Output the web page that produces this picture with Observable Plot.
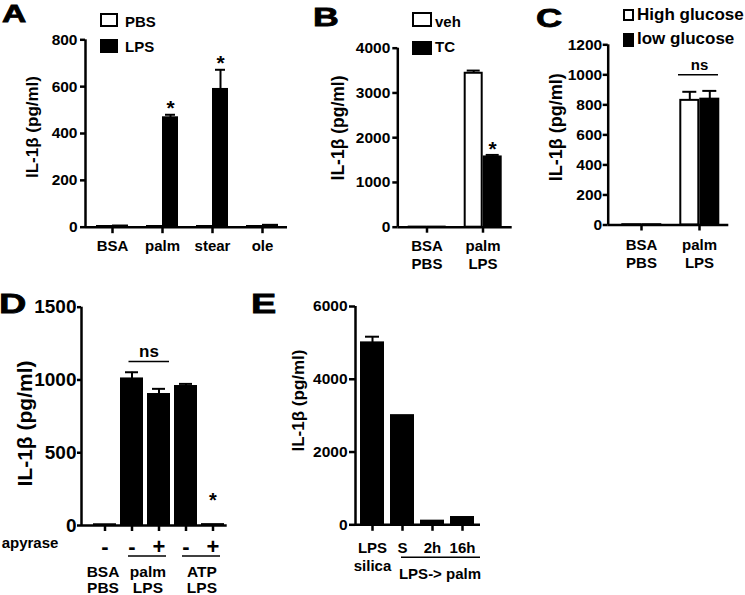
<!DOCTYPE html>
<html>
<head>
<meta charset="utf-8">
<script src="https://cdn.jsdelivr.net/npm/d3@7"></script>
<script src="https://cdn.jsdelivr.net/npm/@observablehq/plot@0.6"></script>
<style>
html,body{margin:0;padding:0;background:#fff;}
#fig{position:relative;width:745px;height:595px;overflow:hidden;background:#fff;font-family:"Liberation Sans",Arial,Helvetica,sans-serif;font-weight:bold;color:#000;}
#fig svg{position:absolute;left:0;top:0;background:transparent !important;overflow:visible;}
.t{position:absolute;white-space:nowrap;line-height:1;}
.sw{position:absolute;box-sizing:border-box;border:2px solid #000;background:#fff;}
.sw.k{background:#000;}
.letter{position:absolute;line-height:1;transform-origin:0 0;-webkit-text-stroke:0.8px #000;}
</style>
</head>
<body>
<div id="fig"></div>
<script>
// ================= DATA =================
const yLabel = "IL-1β (pg/ml)";

// Panel A
const seriesA = ["PBS", "LPS"];
const catsA = ["BSA", "palm", "stear", "ole"];
const pbsA = [3, 3, 3, 3];
const pbsErrA = [0, 0, 0, 0];
const lpsA = [5, 467, 588, 8];
const lpsErrA = [0, 13, 84, 0];
const sigA = ["palm", "stear"];
const ticksA = [0, 200, 400, 600, 800];

// Panel B
const seriesB = ["veh", "TC"];
const catsB = ["BSA\nPBS", "palm\nLPS"];
const vehB = [2, 3440];
const vehErrB = [0, 60];
const tcB = [2, 1570];
const tcErrB = [0, 45];
const sigB = ["palm\nLPS"];
const ticksB = [0, 1000, 2000, 3000, 4000];

// Panel C
const seriesC = ["High glucose", "low glucose"];
const catsC = ["BSA\nPBS", "palm\nLPS"];
const highC = [2, 830];
const highErrC = [0, 57];
const lowC = [2, 838];
const lowErrC = [0, 55];
const nsCatC = "palm\nLPS";
const nsLevelC = 1000;
const ticksC = [0, 200, 400, 600, 800, 1000, 1200];

// Panel D
const groupsD = ["BSA\nPBS", "palm\nLPS", "palm\nLPS", "ATP\nLPS", "ATP\nLPS"];
const apyraseD = ["-", "-", "+", "-", "+"];
const valuesD = [5, 1007, 900, 955, 6];
const errD = [0, 46, 39, 18, 0];
const sigD = [4];
const nsPairD = [1, 2];
const nsLevelD = 1127;
const ticksD = [0, 500, 1000, 1500];

// Panel E
const catsE = ["LPS\nsilica", "S", "2h", "16h"];
const valuesE = [5000, 3000, 100, 200];
const errE = [170, 0, 0, 0];
const groupE = "LPS-> palm";
const groupMembersE = ["S", "2h", "16h"];
const ticksE = [0, 2000, 4000, 6000];

// ================= LAYOUT =================
const W = 745, H = 595;
const FONT = '"Liberation Sans", Arial, Helvetica, sans-serif';
const fig = document.getElementById("fig");

function base(f) {
  return {
    width: W, height: H,
    marginLeft: f.l, marginRight: W - f.r, marginTop: f.t, marginBottom: H - f.b,
    style: {background: "transparent", fontFamily: FONT, fontWeight: "bold", color: "black", overflow: "visible"}
  };
}

function yAxisPlot(f, ydom, ticks, o) {
  return Plot.plot({
    ...base(f),
    x: {domain: [0, 1], axis: null},
    y: {domain: ydom},
    marks: [
      Plot.axisY(ticks, {tickSize: o.ts, tickPadding: o.tp, strokeWidth: 2.5, fontSize: o.fs, tickFormat: d => String(d), label: null}),
      Plot.ruleX([0], {strokeWidth: 2.5}),
      Plot.ruleY([0], {strokeWidth: 2.5}),
      Plot.text([yLabel], {text: d => d, frameAnchor: "left", textAnchor: "middle", lineAnchor: "middle", rotate: -90, dx: o.lx - f.l, dy: o.ly - (f.t + f.b) / 2, fontSize: o.lfs})
    ]
  });
}

function groupedPlot(f, cats, series, rows, ydom, fxo, extra) {
  return Plot.plot({
    ...base(f),
    fx: {domain: cats, paddingInner: fxo.pi, paddingOuter: fxo.po, align: fxo.al, label: null},
    x: {domain: series, paddingInner: 0.1, paddingOuter: 0, axis: null},
    y: {domain: ydom, axis: null},
    color: {domain: series, range: ["white", "black"]},
    marks: [
      Plot.barY(rows, {fx: "c", x: "s", y: "v", fill: "s", stroke: "black", strokeWidth: 2}),
      Plot.ruleX(rows.filter(d => d.e > 0), {fx: "c", x: "s", y1: "v", y2: d => d.v + d.e, strokeWidth: 2}),
      Plot.tickY(rows.filter(d => d.e > 0), {fx: "c", x: "s", y: d => d.v + d.e, strokeWidth: 2, insetLeft: 2, insetRight: 2}),
      ...extra,
      Plot.axisFx({anchor: "bottom", tickSize: fxo.ts, tickPadding: fxo.tp, strokeWidth: 2.5, fontSize: 15, lineHeight: 1.2, label: null})
    ]
  });
}

function txt(s, x, baseline, size) {
  const d = document.createElement("div");
  d.className = "t";
  d.textContent = s;
  d.style.fontSize = size + "px";
  d.style.left = x + "px";
  d.style.top = (baseline - 0.8465 * size) + "px";
  fig.appendChild(d);
}
function sw(x, y, w, h, dark) {
  const d = document.createElement("div");
  d.className = "sw" + (dark ? " k" : "");
  Object.assign(d.style, {left: x + "px", top: y + "px", width: w + "px", height: h + "px"});
  fig.appendChild(d);
}
function letter(s, x, capTop, size) {
  const d = document.createElement("div");
  d.className = "letter";
  d.textContent = s;
  d.style.fontSize = size + "px";
  d.style.left = x + "px";
  d.style.top = (capTop - (0.8465 - 0.716) * size) + "px";
  d.style.transform = "scaleX(1.4)";
  fig.appendChild(d);
}

// ---------- Panel A ----------
const fA = {l: 85, r: 287, t: 39.3, b: 226.7};
const rowsA = catsA.flatMap((c, i) => [
  {c, s: seriesA[0], v: pbsA[i], e: pbsErrA[i]},
  {c, s: seriesA[1], v: lpsA[i], e: lpsErrA[i]}
]);
fig.appendChild(groupedPlot(fA, catsA, seriesA, rowsA, [0, 800],
  {pi: 0.364, po: 0.19, al: 0.53, ts: 6.5, tp: 5},
  [Plot.text(rowsA.filter(d => sigA.includes(d.c) && d.s === seriesA[1]),
    {fx: "c", x: "s", y: d => d.v + d.e, text: () => "*", fontSize: 21, lineAnchor: "bottom", dy: 0})]));
fig.appendChild(yAxisPlot(fA, [0, 800], ticksA, {ts: 5, tp: 3, fs: 15.5, lx: 32.5, ly: 126.5, lfs: 17}));

// ---------- Panel B ----------
const fB = {l: 397.3, r: 511.7, t: 47.7, b: 226.7};
const rowsB = catsB.flatMap((c, i) => [
  {c, s: seriesB[0], v: vehB[i], e: vehErrB[i]},
  {c, s: seriesB[1], v: tcB[i], e: tcErrB[i]}
]);
fig.appendChild(groupedPlot(fB, catsB, seriesB, rowsB, [0, 4000],
  {pi: 0.34, po: 0.19, al: 0.51, ts: 6, tp: 5.3},
  [Plot.text(rowsB.filter(d => sigB.includes(d.c) && d.s === seriesB[1]),
    {fx: "c", x: "s", y: d => d.v + d.e, text: () => "*", fontSize: 21, lineAnchor: "bottom", dy: 1})]));
fig.appendChild(yAxisPlot(fB, [0, 4000], ticksB, {ts: 5, tp: 2.5, fs: 15.5, lx: 337.5, ly: 127.5, lfs: 17.5}));

// ---------- Panel C ----------
const fC = {l: 607.7, r: 728.3, t: 44.3, b: 224.5};
const rowsC = catsC.flatMap((c, i) => [
  {c, s: seriesC[0], v: highC[i], e: highErrC[i]},
  {c, s: seriesC[1], v: lowC[i], e: lowErrC[i]}
]);
fig.appendChild(groupedPlot(fC, catsC, seriesC, rowsC, [0, 1200],
  {pi: 0.34, po: 0.2, al: 0.6, ts: 6, tp: 6.2},
  [
    Plot.ruleY([{c: nsCatC, y: nsLevelC}], {fx: "c", y: "y", strokeWidth: 1.5, insetLeft: -2}),
    Plot.text([{c: nsCatC, y: nsLevelC}], {fx: "c", y: "y", text: () => "ns", fontSize: 15, lineAnchor: "bottom", dy: -4.5})
  ]));
fig.appendChild(yAxisPlot(fC, [0, 1200], ticksC, {ts: 5, tp: 1, fs: 15.5, lx: 555.7, ly: 126.7, lfs: 18}));

// ---------- Panel D ----------
const fD = {l: 81, r: 226.7, t: 306.7, b: 525};
const idxD = d3.range(valuesD.length);
const piD = 0.22, poD = 0.221;
const stepD = (fD.r - fD.l) / (idxD.length - piD + 2 * poD);
const rowsD = idxD.map(i => ({i, g: groupsD[i], a: apyraseD[i], v: valuesD[i], e: errD[i]}));
const grpD = [...new Set(groupsD)].map(g => ({g, first: groupsD.indexOf(g), last: groupsD.lastIndexOf(g)}));
fig.appendChild(Plot.plot({
  ...base(fD),
  x: {domain: idxD, paddingInner: piD, paddingOuter: poD, align: 0.76},
  y: {domain: [0, 1500], axis: null},
  marks: [
    Plot.barY(rowsD, {x: "i", y: "v", fill: "black", stroke: "black", strokeWidth: 2}),
    Plot.ruleX(rowsD.filter(d => d.e > 0), {x: "i", y1: "v", y2: d => d.v + d.e, strokeWidth: 2}),
    Plot.tickY(rowsD.filter(d => d.e > 0), {x: "i", y: d => d.v + d.e, strokeWidth: 2, insetLeft: 4, insetRight: 4}),
    Plot.ruleY([{a: nsPairD[0], b: nsPairD[1], y: nsLevelD}], {x1: "a", x2: "b", y: "y", strokeWidth: 1.5, insetLeft: 7.5, insetRight: 0}),
    Plot.text([{a: nsPairD[0], y: nsLevelD}], {x: "a", y: "y", text: () => "ns", fontSize: 17, lineAnchor: "bottom", dy: -4.3, dx: stepD / 2 + 3}),
    Plot.text(rowsD.filter(d => sigD.includes(d.i)), {x: "i", y: "v", text: () => "*", fontSize: 20, lineAnchor: "bottom", dy: -18}),
    Plot.axisX({anchor: "bottom", tickSize: 6, tickPadding: 6.6, strokeWidth: 2.5, fontSize: 22, tickFormat: i => apyraseD[i], label: null}),
    Plot.ruleY(grpD.filter(g => g.last > g.first), {x1: "first", x2: "last", y: () => 0, dy: 30.5, strokeWidth: 1.5, insetLeft: 7, insetRight: 3}),
    Plot.text(grpD.filter(g => g.last === g.first), {x: "first", y: () => 0, text: "g", dy: 40, dx: -2, lineAnchor: "top", fontSize: 15.5, lineHeight: 1.03}),
    Plot.text(grpD.filter(g => g.last > g.first), {x: "first", y: () => 0, text: "g", dy: 40, dx: stepD / 2 + 2, lineAnchor: "top", fontSize: 15.5, lineHeight: 1.03})
  ]
}));
fig.appendChild(yAxisPlot(fD, [0, 1500], ticksD, {ts: 4, tp: 1, fs: 19, lx: 25, ly: 423, lfs: 21}));

// ---------- Panel E ----------
const fE = {l: 355, r: 480, t: 306, b: 524.3};
const rowsE = catsE.map((c, i) => ({c, v: valuesE[i], e: errE[i]}));
fig.appendChild(Plot.plot({
  ...base(fE),
  x: {domain: catsE, paddingInner: 0.256, paddingOuter: 0.15, align: 0.47},
  y: {domain: [0, 6000], axis: null},
  marks: [
    Plot.barY(rowsE, {x: "c", y: "v", fill: "black", stroke: "black", strokeWidth: 2}),
    Plot.ruleX(rowsE.filter(d => d.e > 0), {x: "c", y1: "v", y2: d => d.v + d.e, strokeWidth: 2}),
    Plot.tickY(rowsE.filter(d => d.e > 0), {x: "c", y: d => d.v + d.e, strokeWidth: 2, insetLeft: 4, insetRight: 4}),
    Plot.axisX({anchor: "bottom", tickSize: 6.5, tickPadding: 9, strokeWidth: 2.5, fontSize: 15, lineHeight: 1.2, label: null}),
    Plot.ruleY([{a: groupMembersE[0], b: groupMembersE[groupMembersE.length - 1]}], {x1: "a", x2: "b", y: () => 0, dy: 32.4, strokeWidth: 1.5, insetLeft: 10, insetRight: -7}),
    Plot.text([groupMembersE[1]], {x: d => d, y: () => 0, text: () => groupE, dy: 43.7, dx: 7.5, lineAnchor: "top", fontSize: 15})
  ]
}));
fig.appendChild(yAxisPlot(fE, [0, 6000], ticksE, {ts: 6, tp: 2, fs: 15.5, lx: 298, ly: 400, lfs: 17}));

// ---------- legends, letters, labels ----------
sw(100, 12.7, 18.3, 14.7, false); txt(seriesA[0], 125, 26.7, 15);
sw(100, 39.3, 18.3, 14, true);    txt(seriesA[1], 125, 51.7, 15);
sw(411.7, 11.7, 20, 15, false);   txt(seriesB[0], 435, 26.5, 15);
sw(411.7, 41, 20, 13.5, true);    txt(seriesB[1], 435, 51.7, 15);
sw(622.7, 9.3, 11.3, 11.3, false); txt(seriesC[0], 637, 20.7, 17);
sw(622.7, 33.3, 11.3, 13.3, true); txt(seriesC[1], 637, 44.5, 17);
txt("apyrase", 1.7, 547.8, 15);

letter("A", 2, 5, 24);
letter("B", 313, 8.3, 25.5);
letter("C", 536, 8.5, 26);
letter("D", -1, 295, 27);
letter("E", 251, 295, 27);
</script>
</body>
</html>
